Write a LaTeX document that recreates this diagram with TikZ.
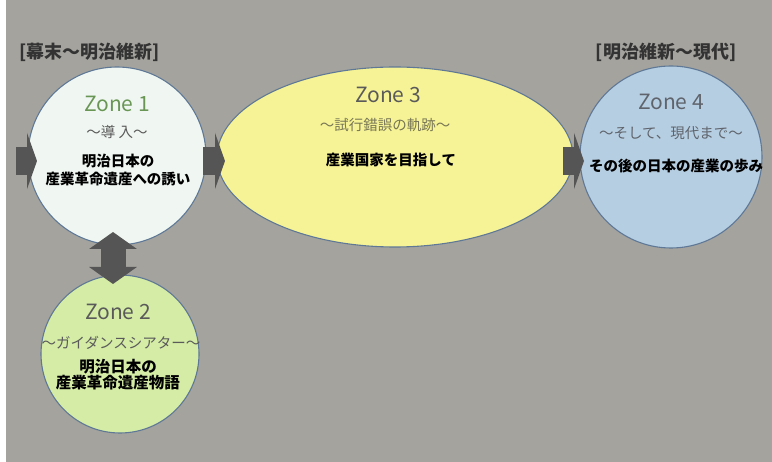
\documentclass[tikz,border=0pt]{standalone}
\usepackage{fontspec}
\newfontfamily\jp{Noto Sans CJK JP}
\usetikzlibrary{arrows.meta,shapes.geometric}
\definecolor{bgc}{RGB}{164,163,158}
\definecolor{edgec}{RGB}{95,120,150}
\definecolor{zonea}{RGB}{240,247,242}
\definecolor{zoneb}{RGB}{212,236,166}
\definecolor{zonec}{RGB}{246,243,150}
\definecolor{zoned}{RGB}{182,206,226}
\definecolor{arrc}{RGB}{85,85,85}
\definecolor{greent}{RGB}{105,150,85}
\definecolor{grayt}{RGB}{90,90,90}
\definecolor{olivet}{RGB}{120,118,85}
\definecolor{bluet}{RGB}{95,100,108}
\tikzset{
  zonecircle/.style={circle, draw=edgec, line width=1.1pt, inner sep=0pt, minimum size=#1},
  zonetitle/.style={font=\jp\fontsize{21}{24}\selectfont, inner sep=0pt},
  zonesub/.style={font=\jp\fontsize{14.5}{16}\selectfont, inner sep=0pt},
  zonebody/.style={font=\jp\bfseries\fontsize{14.5}{18}\selectfont, text=black, inner sep=0pt, align=center},
  eralabel/.style={font=\jp\bfseries\fontsize{18}{20}\selectfont, text=black!80, inner sep=0pt},
  blockarrow/.style={draw=arrc, line width=28pt, -{Triangle[length=10pt,width=56pt]}},
  dblarrow/.style={draw=arrc, line width=25pt, {Triangle[length=17pt,width=47pt]}-{Triangle[length=17pt,width=47pt]}}
}
\begin{document}
\begin{tikzpicture}[x=1pt,y=-1pt]
\useasboundingbox (0,0) rectangle (772,462);
\fill[white] (0,0) rectangle (772,462);
\fill[bgc] (6,0) rectangle (772,462);

% era labels
\node[eralabel] (era1) at (90,52) {[幕末～明治維新]};
\node[eralabel] (era2) at (666,52) {[明治維新～現代]};

% zones
\node[zonecircle=178pt, fill=zonea] (z1) at (117,156) {};
\node[zonecircle=158pt, fill=zoneb] (z2) at (120,354) {};
\node[ellipse, draw=edgec, line width=1.1pt, fill=zonec, minimum width=356pt, minimum height=180pt, inner sep=0pt] (z3) at (395,157) {};
\node[zonecircle=182pt, fill=zoned] (z4) at (671,157) {};

% connectors
\coordinate (a0s) at (16,161);
\coordinate (a0e) at (37,161);
\draw[blockarrow] (a0s) -- (a0e);
\coordinate (a13s) at (203,161);
\coordinate (a13e) at (225,161);
\draw[blockarrow] (a13s) -- (a13e);
\coordinate (a34s) at (563,161);
\coordinate (a34e) at (584,161);
\draw[blockarrow] (a34s) -- (a34e);
\coordinate (a12s) at (113,232);
\coordinate (a12e) at (113,284);
\draw[dblarrow] (a12s) -- (a12e);

% zone 1 texts
\node[zonetitle, text=greent] (t1) at (117,104) {Zone 1};
\node[zonesub, text=grayt] (s1) at (117,132) {～導 入～};
\node[zonebody] (b1a) at (118,161) {明治日本の};
\node[zonebody] (b1b) at (118,179) {産業革命遺産への誘い};

% zone 2 texts
\node[zonetitle, text=grayt] (t2) at (118,312) {Zone 2};
\node[zonesub, text=grayt] (s2) at (121,343) {～ガイダンスシアター～};
\node[zonebody, font=\jp\bfseries\fontsize{15.5}{18}\selectfont] (b2a) at (118,367) {明治日本の};
\node[zonebody, font=\jp\bfseries\fontsize{15.5}{18}\selectfont] (b2b) at (118,383) {産業革命遺産物語};

% zone 3 texts
\node[zonetitle, text=grayt] (t3) at (388,95) {Zone 3};
\node[zonesub, text=olivet] (s3) at (385,125) {～試行錯誤の軌跡～};
\node[zonebody] (b3) at (391,160) {産業国家を目指して};

% zone 4 texts
\node[zonetitle, text=bluet] (t4) at (671,102) {Zone 4};
\node[zonesub, text=bluet] (s4) at (671,133) {～そして、現代まで～};
\node[zonebody] (b4) at (676,166) {その後の日本の産業の歩み};
\end{tikzpicture}
\end{document}
